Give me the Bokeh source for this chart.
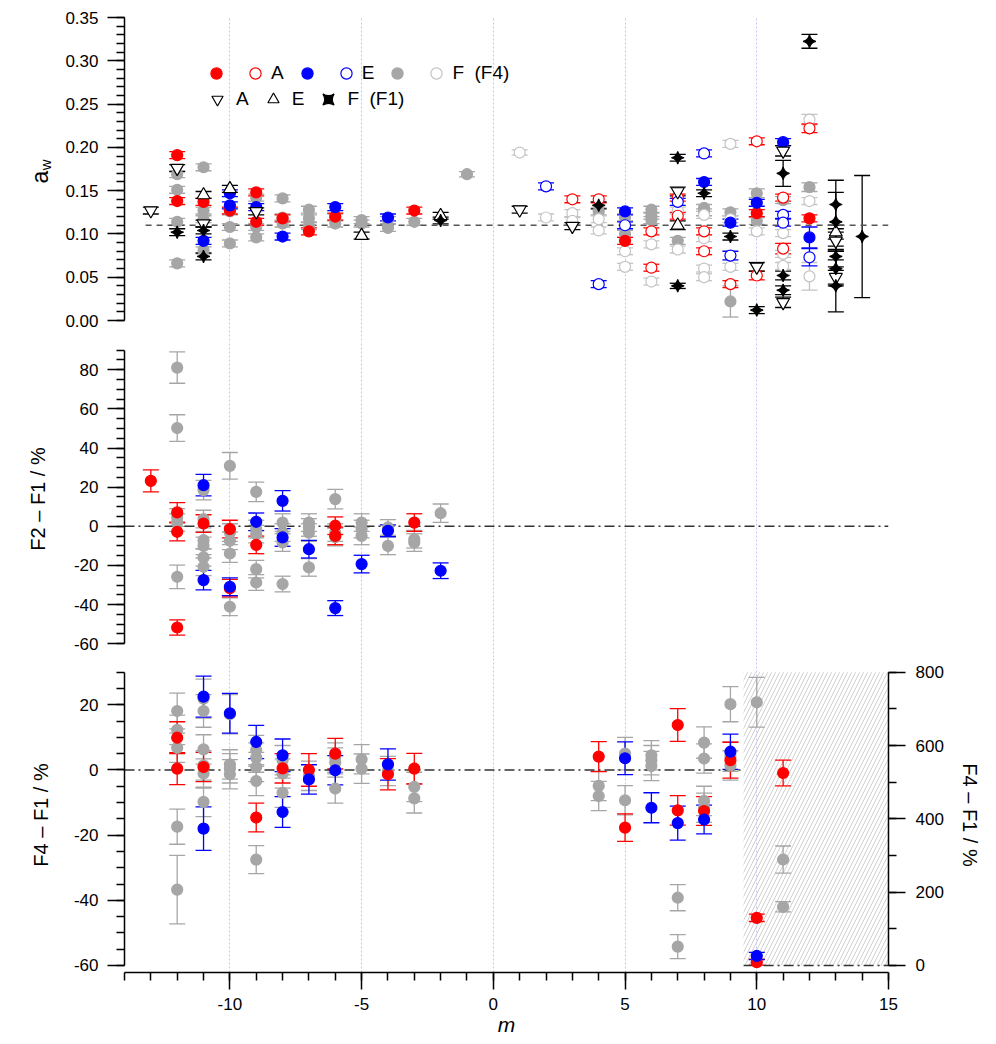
import math
from bokeh.plotting import figure
from bokeh.models import (ColumnDataSource, Whisker, TeeHead, Range1d, LinearAxis,
                          SingleIntervalTicker, FixedTicker, Grid, Label, Legend, LegendItem,
                          BoxAnnotation, PrintfTickFormatter)
from bokeh.layouts import column, row
from bokeh.embed import file_html
from bokeh.resources import INLINE

# ======================= DATA =======================
# ---- top panel: a_w (F4 = circles, F1 = black symbols) ----
A_F4_FILLED_M = [-12, -12, -11, -10, -9, -9, -8, -7, -6, -3, 5, 10, 12]
A_F4_FILLED_Y = [0.191, 0.138, 0.137, 0.127, 0.148, 0.114, 0.118, 0.103, 0.120, 0.127, 0.092, 0.124, 0.118]
A_F4_FILLED_E = [0.004, 0.004, 0.004, 0.004, 0.004, 0.004, 0.004, 0.004, 0.004, 0.004, 0.004, 0.004, 0.004]

A_F4_OPEN_M = [3, 4, 6, 6, 7, 7, 8, 8, 9, 10, 10, 11, 11, 12]
A_F4_OPEN_Y = [0.140, 0.140, 0.103, 0.061, 0.142, 0.121, 0.103, 0.080, 0.042, 0.207, 0.052, 0.142, 0.083, 0.222]
A_F4_OPEN_E = [0.004, 0.004, 0.004, 0.004, 0.004, 0.004, 0.004, 0.004, 0.004, 0.004, 0.005, 0.004, 0.006, 0.005]

E_F4_FILLED_M = [-11, -10, -10, -9, -8, -6, -4, 5, 8, 9, 10, 11, 12]
E_F4_FILLED_Y = [0.092, 0.147, 0.133, 0.131, 0.097, 0.131, 0.119, 0.126, 0.160, 0.113, 0.136, 0.206, 0.096]
E_F4_FILLED_E = [0.004, 0.004, 0.004, 0.004, 0.004, 0.004, 0.004, 0.004, 0.004, 0.004, 0.004, 0.004, 0.012]

E_F4_OPEN_M = [2, 4, 5, 7, 8, 9, 11, 11, 12]
E_F4_OPEN_Y = [0.155, 0.042, 0.110, 0.137, 0.193, 0.075, 0.122, 0.113, 0.073]
E_F4_OPEN_E = [0.004, 0.004, 0.004, 0.004, 0.004, 0.005, 0.004, 0.004, 0.010]

F_F4_FILLED_M = [-12, -12, -12, -12, -11, -11, -11, -11, -10, -10, -10, -9, -9, -9,
                 -8, -8, -8, -7, -7, -7, -6, -6, -5, -5, -4, -4, -3, -1, 4, 5, 5,
                 6, 6, 6, 7, 8, 8, 9, 9, 10, 10, 11, 12]
F_F4_FILLED_Y = [0.169, 0.151, 0.114, 0.066, 0.177, 0.127, 0.117, 0.081, 0.126, 0.108, 0.089,
                 0.142, 0.108, 0.096, 0.141, 0.119, 0.112, 0.128, 0.118, 0.109, 0.119, 0.112,
                 0.116, 0.112, 0.116, 0.107, 0.114, 0.169, 0.126, 0.119, 0.100, 0.128, 0.121,
                 0.116, 0.092, 0.130, 0.125, 0.125, 0.022, 0.147, 0.115, 0.139, 0.154]
F_F4_FILLED_E = [0.004, 0.004, 0.004, 0.004, 0.004, 0.004, 0.004, 0.004, 0.004, 0.004, 0.004,
                 0.004, 0.004, 0.004, 0.004, 0.004, 0.004, 0.004, 0.004, 0.004, 0.004, 0.004,
                 0.004, 0.004, 0.004, 0.004, 0.004, 0.003, 0.004, 0.004, 0.004, 0.004, 0.004,
                 0.004, 0.004, 0.004, 0.004, 0.004, 0.018, 0.005, 0.004, 0.004, 0.005]

F_F4_OPEN_M = [1, 2, 3, 3, 4, 4, 5, 5, 6, 6, 7, 7, 8, 8, 8, 8, 9, 9, 9, 10, 11, 11, 11, 12, 12, 12]
F_F4_OPEN_Y = [0.194, 0.119, 0.124, 0.115, 0.117, 0.104, 0.080, 0.062, 0.088, 0.045, 0.127,
               0.082, 0.122, 0.095, 0.060, 0.050, 0.204, 0.117, 0.062, 0.103, 0.101, 0.077,
               0.063, 0.232, 0.138, 0.051]
F_F4_OPEN_E = [0.003, 0.004, 0.004, 0.004, 0.004, 0.004, 0.004, 0.004, 0.004, 0.004, 0.004,
               0.004, 0.004, 0.004, 0.004, 0.004, 0.004, 0.004, 0.004, 0.004, 0.004, 0.004,
               0.004, 0.006, 0.004, 0.016]

A_F1_M = [-13, -12, -11, -9, 1, 3, 7, 10, 11, 11, 13, 13]
A_F1_Y = [0.127, 0.176, 0.112, 0.126, 0.128, 0.109, 0.149, 0.062, 0.196, 0.021, 0.092, 0.050]
A_F1_E = [0.004, 0.004, 0.004, 0.004, 0.004, 0.004, 0.005, 0.005, 0.006, 0.006, 0.010, 0.008]

E_F1_M = [-11, -10, -5, -2, 7, 13]
E_F1_Y = [0.145, 0.152, 0.098, 0.121, 0.110, 0.102]
E_F1_E = [0.004, 0.004, 0.004, 0.004, 0.005, 0.008]

F_F1_M = [-12, -11, -11, -2, 4, 7, 7, 8, 9, 10, 11, 11, 11, 12, 13, 13, 13, 13, 13]
F_F1_Y = [0.102, 0.104, 0.074, 0.1155, 0.133, 0.188, 0.040, 0.147, 0.097, 0.012, 0.170,
          0.052, 0.035, 0.3225, 0.134, 0.114, 0.074, 0.060, 0.040]
F_F1_E = [0.004, 0.004, 0.004, 0.004, 0.004, 0.004, 0.003, 0.004, 0.004, 0.004, 0.015,
          0.005, 0.005, 0.008, 0.028, 0.034, 0.012, 0.020, 0.030]

MEAN_M = [14]
MEAN_Y = [0.097]
MEAN_E = [0.0705]

REF_AW = 0.11          # dashed reference level
REF_AW_FROM = -13.2

# ---- middle panel: F2 - F1 / % ----
D21_RED_M = [-13, -12, -12, -12, -11, -10, -10, -9, -6, -6, -3]
D21_RED_Y = [23.2, 7.1, -2.8, -51.7, 1.4, -1.4, -31.6, -9.5, 0.3, -4.9, 1.9]
D21_RED_E = [5.6, 5.0, 4.6, 3.9, 4.5, 4.5, 4.5, 4.5, 4.5, 4.5, 4.5]

D21_BLUE_M = [-11, -11, -10, -9, -8, -8, -7, -6, -5, -4, -2]
D21_BLUE_Y = [21.0, -27.5, -30.9, 2.3, 13.0, -5.7, -11.7, -41.8, -19.3, -2.3, -22.7]
D21_BLUE_E = [5.5, 5.0, 4.5, 4.5, 5.2, 4.5, 4.5, 3.8, 4.5, 3.0, 4.0]

D21_GREY_M = [-12, -12, -12, -12, -12, -11, -11, -11, -11, -11, -11, -10, -10, -10, -10, -10,
              -9, -9, -9, -9, -9, -8, -8, -8, -8, -7, -7, -7, -7, -6, -6, -6, -5, -5, -5,
              -4, -4, -3, -3, -2]
D21_GREY_Y = [81.1, 50.2, 4.5, 1.9, -25.8, 18.5, 3.7, -7.1, -10.0, -15.9, -20.7,
              30.9, -3.2, -7.4, -13.9, -41.1, 17.6, -1.4, -4.0, -21.9, -28.7,
              1.9, -3.2, -8.3, -29.5, 1.9, -0.6, -3.2, -21.0, 13.9, -3.2, -5.5,
              1.9, -1.4, -4.9, -0.6, -10.0, -6.6, -8.3, 6.7]
D21_GREY_E = [8.0, 6.8, 4.5, 4.5, 6.0, 5.0, 4.5, 4.5, 4.5, 4.5, 4.5,
              6.8, 4.5, 4.5, 4.5, 4.5, 5.0, 4.5, 4.5, 4.5, 4.0,
              4.5, 4.5, 4.5, 4.0, 4.5, 4.5, 4.5, 4.5, 5.0, 4.5, 4.5,
              4.5, 4.5, 4.5, 4.0, 4.5, 4.5, 4.5, 4.7]

# ---- bottom panel: F4 - F1 / % (left axis) ----
D41_RED_M = [-12, -12, -11, -9, -8, -7, -6, -4, -3, 4, 5, 7, 7, 8, 9]
D41_RED_Y = [9.9, 0.4, 0.9, -14.6, 0.5, 0.0, 5.0, -1.3, 0.4, 4.1, -17.7, 13.8, -12.4, -12.6, 3.0]
D41_RED_E = [4.9, 4.9, 4.5, 4.4, 4.5, 5.0, 4.7, 4.8, 4.7, 4.6, 4.2, 5.0, 4.5, 4.4, 5.5]

D41_BLUE_M = [-11, -11, -10, -9, -8, -8, -7, -6, -4, 5, 6, 7, 8, 9]
D41_BLUE_Y = [22.5, -18.0, 17.4, 8.6, 4.5, -12.9, -2.9, -0.1, 1.7, 3.6, -11.6, -16.3, -15.2, 5.6]
D41_BLUE_E = [6.3, 6.7, 6.1, 5.1, 5.0, 4.7, 4.5, 4.5, 4.8, 5.0, 4.6, 5.2, 4.4, 5.4]

D41_GREY_M = [-12, -12, -12, -12, -12, -11, -11, -11, -11, -11, -11, -10, -10, -10, -10,
              -9, -9, -9, -9, -9, -8, -8, -8, -7, -6, -6, -6, -5, -5, -4, -3, -3,
              4, 4, 5, 5, 6, 6, 6, 7, 7, 8, 8, 8, 8, 9, 9, 9]
D41_GREY_Y = [18.1, 12.3, 6.8, -17.4, -36.7, 21.9, 18.1, 6.3, 1.4, -1.1, -9.8,
              17.1, 1.7, 0.5, -1.3, 6.1, 3.8, 0.9, -3.4, -27.5, 3.0, -1.1, -7.0,
              -1.8, 3.8, 2.3, -5.7, 3.3, 0.4, -0.3, -5.2, -8.7,
              -4.9, -8.0, 5.0, -9.3, 4.5, 3.0, 1.2, -39.2, -54.2, 8.4, 3.5, -9.5, -11.6,
              20.2, 4.1, 1.4]
D41_GREY_E = [5.5, 4.5, 4.5, 5.4, 10.5, 6.0, 5.0, 4.5, 4.5, 4.5, 4.5,
              6.0, 4.5, 4.5, 4.5, 4.5, 4.5, 4.5, 4.5, 4.3, 4.5, 4.5, 4.5,
              4.5, 4.5, 4.5, 4.5, 4.5, 4.5, 4.5, 4.5, 4.5,
              4.5, 4.5, 5.0, 4.5, 4.5, 4.5, 4.5, 4.0, 3.7, 4.8, 4.5, 4.5, 4.5,
              5.4, 4.5, 4.5]

# ---- bottom panel: F4 - F1 / % (right axis, hatched region) ----
D41R_RED_M = [10, 10, 11]
D41R_RED_Y = [130, 9, 525]
D41R_RED_E = [10, 8, 35]
D41R_BLUE_M = [10]
D41R_BLUE_Y = [26]
D41R_BLUE_E = [10]
D41R_GREY_M = [10, 11, 11]
D41R_GREY_Y = [718, 289, 160]
D41R_GREY_E = [68, 37, 14]

HATCH_FROM_M = 9.5

# axis tick values
X_MAJOR = 5
GRID_M = [-10, -5, 0, 5, 10]
AW_TICKS = [0.00, 0.05, 0.10, 0.15, 0.20, 0.25, 0.30, 0.35]
AW_MINOR = [round(0.01 * i, 2) for i in range(36)]

# ======================= STYLE =======================
FONT = "Liberation Sans"
RED, BLUE, GREY, LGREY, BLACK = "#ff0000", "#0000ff", "#a6a6a6", "#c4c4c4", "#000000"
X_RANGE = Range1d(-14, 15)
LABEL_W = 60                      # narrow strip holding the a_w title
BL, BR, FRAME_W = 124, 100, 764
W = BL + FRAME_W + BR
TOP_H = 340


def make_fig(width, height, yr, left, top=0, bottom=0, xaxis=False):
    p = figure(width=width, height=height, x_range=X_RANGE, y_range=Range1d(*yr),
               output_backend="svg", toolbar_location=None, title=None,
               x_axis_location="below" if xaxis else None, y_axis_location=None,
               min_border_left=left, min_border_right=BR, min_border_top=top,
               min_border_bottom=bottom)
    p.outline_line_color = None
    for g in list(p.grid):
        g.visible = False
    p.add_layout(Grid(dimension=0, ticker=FixedTicker(ticks=GRID_M),
                      grid_line_color="#c4c4f2", grid_line_dash="2 2", grid_line_width=1))
    return p


def style_axis(ax):
    ax.axis_line_color = BLACK
    ax.axis_line_width = 1.5
    ax.major_tick_line_color = BLACK
    ax.major_tick_line_width = 1.5
    ax.minor_tick_line_color = BLACK
    ax.minor_tick_line_width = 1.5
    ax.major_tick_out = 17
    ax.major_tick_in = 0
    ax.minor_tick_out = 8
    ax.minor_tick_in = 0
    ax.major_label_text_font = FONT
    ax.major_label_text_font_size = "17px"
    ax.major_label_text_color = BLACK
    ax.major_label_standoff = 9
    ax.axis_label_text_font = FONT
    ax.axis_label_text_font_size = "20px"
    ax.axis_label_text_font_style = "normal"
    ax.axis_label_text_color = BLACK


def series(p, xs, ys, es, marker, color, fill, size, wcolor=None, rng="default", angle=0.0):
    src = ColumnDataSource(dict(x=xs, y=ys,
                                lower=[y - e for y, e in zip(ys, es)],
                                upper=[y + e for y, e in zip(ys, es)]))
    wc = wcolor or color
    p.add_layout(Whisker(source=src, base="x", upper="upper", lower="lower",
                         line_color=wc, line_width=1.3, y_range_name=rng,
                         upper_head=TeeHead(size=16, line_color=wc, line_width=1.3),
                         lower_head=TeeHead(size=16, line_color=wc, line_width=1.3)))
    return p.scatter("x", "y", source=src, marker=marker, size=size, fill_color=fill,
                     line_color=color, line_width=1.2, angle=angle, y_range_name=rng)


# ======================= TITLE STRIP (a_w) =======================
strip = figure(width=LABEL_W, height=TOP_H, x_range=Range1d(0, LABEL_W), y_range=Range1d(0, TOP_H),
               output_backend="svg", toolbar_location=None, title=None,
               x_axis_location=None, y_axis_location=None, min_border=0)
strip.outline_line_color = None
for g in list(strip.grid):
    g.visible = False
strip.add_layout(Label(x=39, y=TOP_H - 168, text="a", angle=math.pi / 2,
                       text_align="center", text_baseline="middle",
                       text_font=FONT, text_font_size="23px", text_color=BLACK))
strip.add_layout(Label(x=45, y=TOP_H - 155, text="w", angle=math.pi / 2,
                       text_align="center", text_baseline="middle",
                       text_font=FONT, text_font_size="15px", text_color=BLACK))

# ======================= TOP PANEL =======================
top = make_fig(W - LABEL_W, TOP_H, (-0.0231, 0.35), BL - LABEL_W, top=17)
ax = LinearAxis(bounds=(0, 0.35), ticker=FixedTicker(ticks=AW_TICKS, minor_ticks=AW_MINOR),
                formatter=PrintfTickFormatter(format="%.2f"))
style_axis(ax)
top.add_layout(ax, "left")

top.line(x=[REF_AW_FROM, 15], y=[REF_AW, REF_AW], line_color="#555555",
         line_dash="6 5", line_width=1.5)

rFf = series(top, F_F4_FILLED_M, F_F4_FILLED_Y, F_F4_FILLED_E, "circle", GREY, GREY, 11)
rFo = series(top, F_F4_OPEN_M, F_F4_OPEN_Y, F_F4_OPEN_E, "circle", LGREY, "white", 11)
rAf = series(top, A_F4_FILLED_M, A_F4_FILLED_Y, A_F4_FILLED_E, "circle", RED, RED, 11)
rAo = series(top, A_F4_OPEN_M, A_F4_OPEN_Y, A_F4_OPEN_E, "circle", RED, "white", 11)
rEf = series(top, E_F4_FILLED_M, E_F4_FILLED_Y, E_F4_FILLED_E, "circle", BLUE, BLUE, 11)
rEo = series(top, E_F4_OPEN_M, E_F4_OPEN_Y, E_F4_OPEN_E, "circle", BLUE, "white", 11)
rA1 = series(top, A_F1_M, A_F1_Y, A_F1_E, "inverted_triangle", BLACK, "white", 13)
rE1 = series(top, E_F1_M, E_F1_Y, E_F1_E, "triangle", BLACK, "white", 13)
rF1 = series(top, F_F1_M, F_F1_Y, F_F1_E, "square_pin", BLACK, BLACK, 9, angle=math.pi / 4)
series(top, MEAN_M, MEAN_Y, MEAN_E, "square_pin", BLACK, BLACK, 9, angle=math.pi / 4)

leg_common = dict(orientation="horizontal", glyph_width=28, glyph_height=28, label_width=0,
                  label_height=28, padding=0, margin=0, border_line_color=None,
                  background_fill_alpha=0, label_text_font=FONT, label_text_font_size="19px",
                  label_text_color=BLACK)
leg1 = Legend(items=[LegendItem(label="", renderers=[rAf]), LegendItem(label="A", renderers=[rAo]),
                     LegendItem(label="", renderers=[rEf]), LegendItem(label="E", renderers=[rEo]),
                     LegendItem(label="", renderers=[rFf]), LegendItem(label="F  (F4)", renderers=[rFo])],
              location=(78, 253), label_standoff=2, spacing=9, **leg_common)
leg2 = Legend(items=[LegendItem(label="A", renderers=[rA1]), LegendItem(label="E", renderers=[rE1]),
                     LegendItem(label="F  (F1)", renderers=[rF1])],
              location=(79, 227), label_standoff=5, spacing=10, **leg_common)
top.add_layout(leg1)
top.add_layout(leg2)

# ======================= MIDDLE PANEL =======================
mid = make_fig(W, 317, (-67.04, 94.94), BL)
ax = LinearAxis(bounds=(-60, 90), ticker=SingleIntervalTicker(interval=20, num_minor_ticks=4),
                formatter=PrintfTickFormatter(format="%d"), axis_label="F2 – F1 / %")
style_axis(ax)
ax.axis_label_standoff = 22
mid.add_layout(ax, "left")
mid.line(x=[-14, 15], y=[0, 0], line_color="#333333", line_dash="10 4 2 4", line_width=1.5)
series(mid, D21_GREY_M, D21_GREY_Y, D21_GREY_E, "circle", GREY, GREY, 11)
series(mid, D21_RED_M, D21_RED_Y, D21_RED_E, "circle", RED, RED, 11)
series(mid, D21_BLUE_M, D21_BLUE_Y, D21_BLUE_E, "circle", BLUE, BLUE, 11)

# ======================= BOTTOM PANEL =======================
bot = make_fig(W, 387, (-62.15, 34.51), BL, bottom=72, xaxis=True)
bot.extra_y_ranges = {"right": Range1d(-19.1, 840.1)}
xa = bot.xaxis[0]
xa.ticker = SingleIntervalTicker(interval=X_MAJOR, num_minor_ticks=5)
xa.formatter = PrintfTickFormatter(format="%d")
style_axis(xa)
xa.major_label_standoff = 8
xa.axis_label = "m"
xa.axis_label_text_font_style = "italic"
xa.axis_label_text_font_size = "21px"
xa.axis_label_standoff = 0

ax = LinearAxis(bounds=(-60, 30), ticker=SingleIntervalTicker(interval=20, num_minor_ticks=4),
                formatter=PrintfTickFormatter(format="%d"), axis_label="F4 – F1 / %")
style_axis(ax)
ax.axis_label_standoff = 19
bot.add_layout(ax, "left")

axr = LinearAxis(y_range_name="right", bounds=(0, 800),
                 ticker=SingleIntervalTicker(interval=200, num_minor_ticks=2),
                 formatter=PrintfTickFormatter(format="%d"), axis_label="F4 – F1 / %")
style_axis(axr)
axr.major_label_standoff = 10
axr.axis_label_standoff = 12
bot.add_layout(axr, "right")

bot.add_layout(BoxAnnotation(left=HATCH_FROM_M, right=15, bottom=0, top=800, y_range_name="right",
                             fill_alpha=0, line_color=None, hatch_pattern="/",
                             hatch_color="#d0d0d0", hatch_scale=8, hatch_weight=1, level="underlay"))

bot.line(x=[-14, HATCH_FROM_M], y=[0, 0], line_color="#333333", line_dash="10 4 2 4", line_width=1.5)
bot.line(x=[HATCH_FROM_M, 15], y=[0, 0], y_range_name="right", line_color="#333333",
         line_dash="10 4 2 4", line_width=1.5)

series(bot, D41_GREY_M, D41_GREY_Y, D41_GREY_E, "circle", GREY, GREY, 11)
series(bot, D41_RED_M, D41_RED_Y, D41_RED_E, "circle", RED, RED, 11)
series(bot, D41_BLUE_M, D41_BLUE_Y, D41_BLUE_E, "circle", BLUE, BLUE, 11)
series(bot, D41R_GREY_M, D41R_GREY_Y, D41R_GREY_E, "circle", GREY, GREY, 11, rng="right")
series(bot, D41R_RED_M, D41R_RED_Y, D41R_RED_E, "circle", RED, RED, 11, rng="right")
series(bot, D41R_BLUE_M, D41R_BLUE_Y, D41R_BLUE_E, "circle", BLUE, BLUE, 11, rng="right")

layout = column(row(strip, top), mid, bot)
open("out.html", "w").write(file_html(layout, INLINE))
